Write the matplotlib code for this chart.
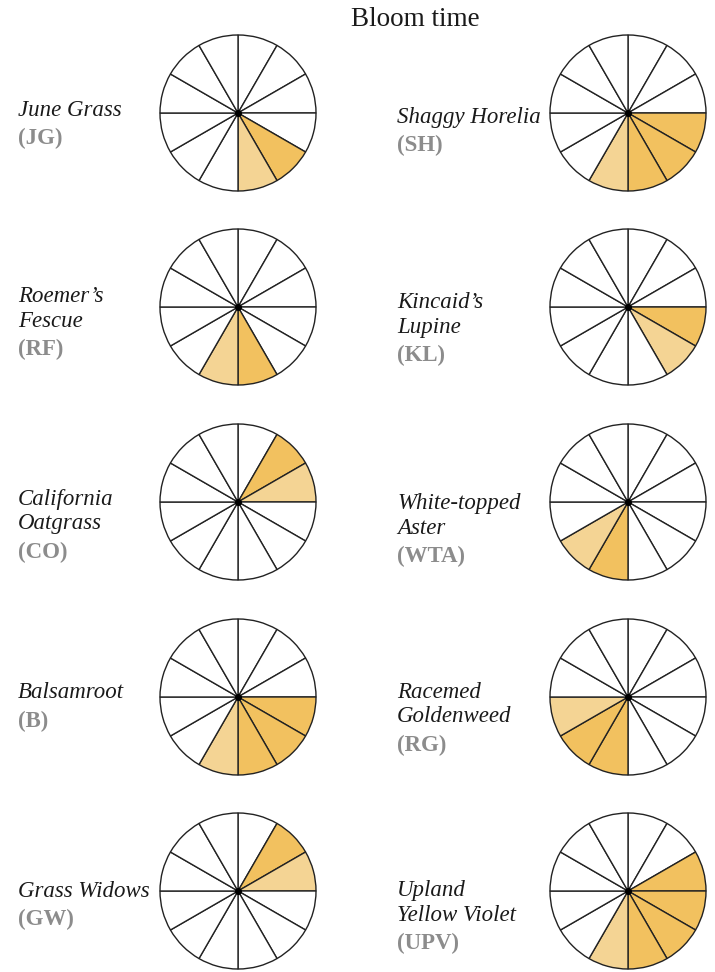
import matplotlib
matplotlib.use("Agg")
import matplotlib.pyplot as plt

# Bloom calendar: 12 monthly wedges per species, January at the top, clockwise
months = ["Jan", "Feb", "Mar", "Apr", "May", "Jun",
          "Jul", "Aug", "Sep", "Oct", "Nov", "Dec"]

species_names = ["June Grass", "Shaggy Horelia",
                 "Roemer’s\nFescue", "Kincaid’s\nLupine",
                 "California\nOatgrass", "White-topped\nAster",
                 "Balsamroot", "Racemed\nGoldenweed",
                 "Grass Widows", "Upland\nYellow Violet"]
species_codes = ["JG", "SH", "RF", "KL", "CO", "WTA", "B", "RG", "GW", "UPV"]

# months in full bloom and months of lighter (tail) bloom, 1-based
peak_months = [[5], [4, 5, 6], [6], [4], [2], [7], [4, 5, 6], [7, 8], [2], [3, 4, 5, 6]]
tail_months = [[6], [7], [7], [5], [3], [8], [7], [9], [3], [7]]

title = "Bloom time"

# ---- styling / layout (pixel units on a 715 x 972 canvas) ----
W, H = 715, 972
DPI = 100
PEAK_COLOR = "#F2C15F"
TAIL_COLOR = "#F4D494"
EMPTY_COLOR = "#FFFFFF"
EDGE = "#222222"
GREY = "#8C8C8C"
SERIF = ["Liberation Serif", "DejaVu Serif"]

col_x = [238, 628]
row_y = [113, 307, 502, 697, 891]
radius = 78
label_x = [18, 397]
first_line_y = [110, 117, 296, 302, 499, 503, 693, 692, 891, 890]
line_step = 25
code_gap = 28
FS = 16.5

fig = plt.figure(figsize=(W / DPI, H / DPI), dpi=DPI)
fig.patch.set_facecolor("white")

fig.text(415 / W, 1 - 19 / H, title, ha="center", va="center",
         family=SERIF, fontsize=19.5, color="#1a1a1a")

for i, (name, code) in enumerate(zip(species_names, species_codes)):
    col = i % 2
    row = i // 2
    cx, cy = col_x[col], row_y[row]

    colors = []
    for m in range(1, 13):
        if m in peak_months[i]:
            colors.append(PEAK_COLOR)
        elif m in tail_months[i]:
            colors.append(TAIL_COLOR)
        else:
            colors.append(EMPTY_COLOR)

    pad = 4
    ax = fig.add_axes([(cx - radius - pad) / W, 1 - (cy + radius + pad) / H,
                       2 * (radius + pad) / W, 2 * (radius + pad) / H])
    ax.pie([1] * len(months), colors=colors, startangle=90, counterclock=False,
           radius=1.0, wedgeprops=dict(edgecolor=EDGE, linewidth=1.0))
    lim = 1.0 + pad / radius
    ax.set_xlim(-lim, lim)
    ax.set_ylim(-lim, lim)
    ax.set_aspect("equal")
    ax.plot([0], [0], marker="o", markersize=4, color="black", zorder=5)
    ax.axis("off")

    # species name (italic) followed by grey code
    lines = name.split("\n")
    y = first_line_y[i]
    for ln in lines:
        fig.text(label_x[col] / W, 1 - y / H, ln, ha="left", va="center",
                 family=SERIF, style="italic", fontsize=FS, color="#1a1a1a")
        y += line_step
    y += code_gap - line_step
    fig.text(label_x[col] / W, 1 - y / H, f"({code})", ha="left", va="center",
             family=SERIF, fontweight="bold", fontsize=FS, color=GREY)

fig.savefig("out.png", dpi=DPI, facecolor="white")
